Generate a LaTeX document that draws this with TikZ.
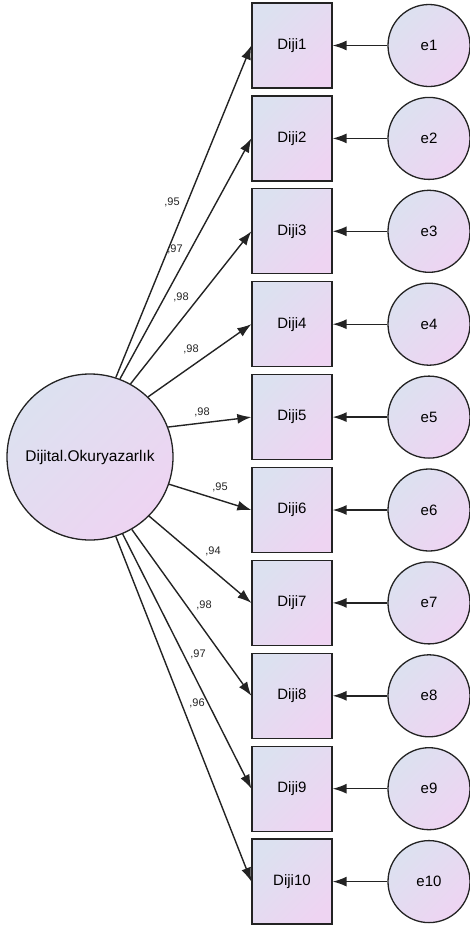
\documentclass[tikz,border=0pt]{standalone}
\usepackage{fontspec}
\setmainfont{Liberation Sans}
\usetikzlibrary{arrows.meta}
\usetikzlibrary{positioning}
\usetikzlibrary{calc}

\definecolor{fillA}{RGB}{220,225,240}
\definecolor{fillB}{RGB}{238,212,242}
\definecolor{edge}{RGB}{35,35,35}

\tikzset{
  shaded/.style={draw=edge, line width=1.3pt, top color=fillA, bottom color=fillB, shading angle=45},
  latent/.style={shaded, circle, minimum size=166pt, inner sep=0pt, font=\fontsize{15.5}{18}\selectfont},
  obsbox/.style={shaded, rectangle, minimum width=80pt, minimum height=85pt, inner sep=0pt, font=\fontsize{15}{18}\selectfont},
  errc/.style={shaded, circle, minimum size=82pt, inner sep=0pt, font=\fontsize{15}{18}\selectfont},
  path/.style={line width=1.4pt, edge, -{Latex[length=14pt,width=10pt]}},
  wlab/.style={font=\fontsize{11}{12}\selectfont, text=edge, inner sep=0pt}
}

\begin{document}
\begin{tikzpicture}[x=1pt, y=-1pt]
 \useasboundingbox (0,0) rectangle (470,927);

 %latent
 \node[latent] (lat) at (90,457) {Dijital.Okuryazarlık};

 %indicators and errors
 \foreach \i in {1,...,10} {
   \node[obsbox] (diji\i) at (292, {45.5+(\i-1)*92.9}) {Diji\i};
   \node[errc] (e\i) at (429, {45.5+(\i-1)*92.9}) {e\i};
   \draw[path] (e\i.west) -- (diji\i.east);
 }

 %loadings
 \foreach \i/\ang/\x/\y/\w in {1/72/172/202/95, 2/69/175/249/97, 3/61/181/297/98,
     4/46/191/349/98, 5/21/202/412/98, 6/-19/220/487/95, 7/-45/213/551/94,
     8/-60/204/605/98, 9/-67/198/654/97, 10/-72/197/703/96} {
   \draw[path] (lat.\ang) -- (diji\i.west);
   \node[wlab] (w\i) at (\x,\y) {,\w};
 }

\end{tikzpicture}
\end{document}
